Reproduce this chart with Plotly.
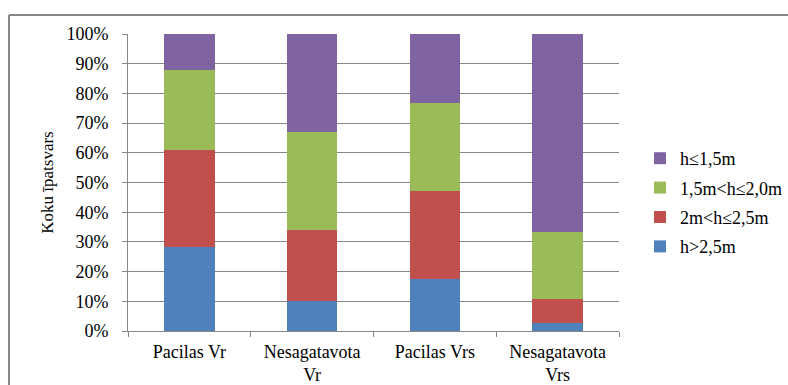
import plotly.graph_objects as go

categories = ["Pacilas Vr", "Nesagatavota<br>Vr", "Pacilas Vrs", "Nesagatavota<br>Vrs"]
h_over_25 = [28.3, 10.2, 17.5, 2.7]
h_20_25 = [32.5, 23.9, 29.5, 8.2]
h_15_20 = [27.2, 32.8, 29.7, 22.6]
h_under_15 = [12.0, 33.1, 23.3, 66.5]

series = [
    ("h>2,5m", h_over_25, "#4f81bd"),
    ("2m<h≤2,5m", h_20_25, "#c0504d"),
    ("1,5m<h≤2,0m", h_15_20, "#9bbb59"),
    ("h≤1,5m", h_under_15, "#8064a2"),
]

W, H = 788, 385
L, R, T, B = 128, 619, 34, 331
SERIF = "Times New Roman, Liberation Serif, serif"

fig = go.Figure()
for i, (name, vals, color) in enumerate(series):
    # top segment listed first in the legend
    fig.add_trace(go.Bar(x=categories, y=vals, name=name, marker_color=color,
                         marker_line_width=0, legendgroup=f"g{i}",
                         legendrank=1000 - i))

fig.update_layout(
    barmode="stack",
    bargap=0.59,
    width=W, height=H,
    margin=dict(l=L, r=W - R, t=T, b=H - B, autoexpand=False),
    paper_bgcolor="white",
    plot_bgcolor="white",
    font=dict(family=SERIF, size=18, color="#000000"),
    showlegend=True,
    legend=dict(traceorder="grouped", xref="container", yref="container",
                x=640 / W, y=1 - 140 / H, xanchor="left", yanchor="top",
                font=dict(family=SERIF, size=18),
                itemsizing="constant", tracegroupgap=3, itemwidth=30),
    xaxis=dict(showline=True, linecolor="#868686", linewidth=1, automargin=False,
               ticks="outside", tickson="boundaries", ticklen=5, tickcolor="#868686",
               ticklabelstandoff=4,
               tickfont=dict(family=SERIF, size=18)),
    yaxis=dict(range=[0, 100], dtick=10, ticksuffix="%", showgrid=True, automargin=False,
               gridcolor="#868686", gridwidth=1, showline=True, linecolor="#868686",
               ticks="outside", ticklen=5, tickcolor="#868686",
               ticklabelstandoff=10,
               title=dict(text="Koku īpatsvars", font=dict(family=SERIF, size=17), standoff=8),
               tickfont=dict(family=SERIF, size=18)),
)

# outer chart frame (top and left edges visible)
px = lambda x: (x - L) / (R - L)
py = lambda y: (B - y) / (B - T)
fig.add_shape(type="line", xref="paper", yref="paper", x0=px(9), x1=px(800), y0=py(15), y1=py(15),
              line=dict(color="#868686", width=2))
fig.add_shape(type="line", xref="paper", yref="paper", x0=px(9), x1=px(9), y0=py(15), y1=py(400),
              line=dict(color="#868686", width=2))

fig.write_html("out.html")
